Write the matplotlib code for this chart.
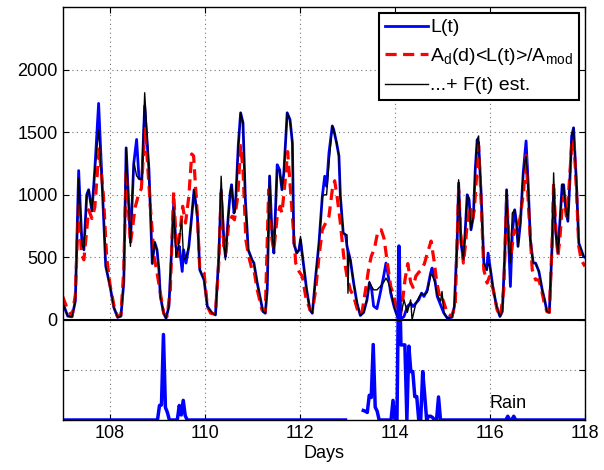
import numpy as np
import matplotlib
matplotlib.use("Agg")
import matplotlib.pyplot as plt

plt.rcParams['font.family'] = ['Liberation Sans', 'DejaVu Sans']
plt.rcParams['mathtext.fontset'] = 'custom'
plt.rcParams['mathtext.rm'] = 'Liberation Sans'
plt.rcParams['font.size'] = 13

# measured load L(t), day of year vs value
load_t = [107.00,107.11,107.20,107.27,107.34,107.41,107.45,107.51,107.55,107.62,107.68,107.76,107.84,107.91,
          108.00,108.08,108.16,108.23,108.29,108.34,108.43,108.50,108.56,108.61,108.67,108.73,108.82,108.89,108.94,108.99,
          109.03,109.06,109.13,109.18,109.24,109.29,109.34,109.39,109.43,109.46,109.52,109.55,109.60,109.66,109.72,109.77,109.84,109.89,109.98,
          110.05,110.15,110.22,110.29,110.34,110.40,110.43,110.49,110.53,110.56,110.61,110.64,110.70,110.75,110.80,110.85,110.91,110.99,
          111.03,111.10,111.17,111.22,111.27,111.31,111.36,111.41,111.45,111.52,111.57,111.62,111.66,111.73,111.79,111.84,111.87,111.93,111.98,
          112.01,112.07,112.14,112.21,112.26,112.33,112.40,112.47,112.52,112.56,112.61,112.68,112.71,112.77,112.82,112.85,112.91,112.96,112.99,
          113.06,113.13,113.20,113.27,113.34,113.41,113.46,113.51,113.55,113.62,113.69,113.76,113.81,113.86,113.91,113.98,
          114.05,114.10,114.19,114.26,114.33,114.38,114.44,114.50,114.56,114.61,114.68,114.75,114.78,114.84,114.89,114.96,
          115.03,115.10,115.20,115.25,115.31,115.34,115.39,115.44,115.48,115.52,115.56,115.60,115.65,115.69,115.73,115.76,115.81,115.87,115.93,115.96,
          116.00,116.07,116.14,116.21,116.26,116.31,116.35,116.40,116.43,116.47,116.52,116.56,116.59,116.64,116.70,116.76,116.80,116.85,116.91,116.96,
          117.03,117.10,117.15,117.20,117.25,117.31,117.34,117.38,117.43,117.48,117.52,117.55,117.59,117.64,117.68,117.72,117.76,117.82,117.87,117.92,117.97,118.00]
load_v = [140,30,25,150,1193,600,560,1000,1040,870,1200,1730,1040,430,
          270,100,20,30,300,1375,620,1250,1442,1130,1120,1710,1200,450,620,560,
          400,187,53,13,107,507,935,587,507,587,387,560,454,587,828,1040,828,400,320,
          107,53,40,507,1040,614,507,828,1015,1080,854,895,1390,1655,1575,960,560,480,
          454,294,160,67,53,240,1150,694,534,1240,1200,1040,1175,1655,1600,1415,614,534,560,
          640,454,240,80,53,347,614,988,1148,1068,1335,1550,1520,1415,1310,988,694,680,587,
          480,294,133,35,60,160,294,240,110,90,214,347,454,347,214,107,
          27,0,27,107,133,107,133,160,214,187,240,374,414,320,187,120,
          53,15,21,107,640,1095,614,480,720,1000,960,720,828,1200,1440,1415,1040,454,400,534,
          427,240,107,27,67,507,1040,560,267,694,880,774,587,774,1175,1430,1120,640,454,454,
          387,240,160,67,60,614,1040,720,534,828,1080,1080,908,788,1095,1470,1535,1095,614,560,507,500]

# A_d(d)<L(t)>/A_mod
model_t = [107.00,107.11,107.20,107.27,107.34,107.40,107.45,107.55,107.62,107.68,107.77,107.86,107.93,
           108.00,108.08,108.16,108.23,108.29,108.34,108.43,108.53,108.60,108.66,108.74,108.85,108.93,
           108.98,109.05,109.13,109.20,109.27,109.34,109.41,109.48,109.53,109.59,109.66,109.72,109.76,109.84,109.89,109.98,
           110.05,110.12,110.22,110.29,110.34,110.40,110.44,110.50,110.57,110.62,110.69,110.75,110.80,110.86,110.92,110.99,
           111.03,111.10,111.20,111.27,111.34,111.41,111.45,111.52,111.58,111.62,111.69,111.74,111.80,111.86,111.91,111.98,
           112.05,112.12,112.21,112.26,112.33,112.40,112.47,112.54,112.61,112.68,112.73,112.78,112.85,112.92,112.99,
           113.06,113.13,113.24,113.31,113.38,113.45,113.50,113.57,113.64,113.71,113.77,113.84,113.91,113.98,
           114.05,114.11,114.16,114.21,114.27,114.33,114.38,114.44,114.50,114.56,114.62,114.68,114.76,114.82,114.88,114.96,
           115.01,115.10,115.20,115.27,115.34,115.39,115.44,115.48,115.52,115.58,115.62,115.67,115.73,115.76,115.81,115.87,115.94,115.99,
           116.07,116.15,116.22,116.29,116.35,116.40,116.44,116.51,116.57,116.64,116.71,116.76,116.81,116.89,116.96,
           117.03,117.10,117.15,117.20,117.25,117.31,117.34,117.38,117.43,117.47,117.52,117.55,117.61,117.66,117.73,117.77,117.82,117.87,117.92,118.00]
model_v = [190,80,30,200,950,520,480,880,810,900,1366,1000,500,
           280,120,25,40,400,1200,610,900,1000,1050,1540,900,500,
           400,240,53,27,240,1019,507,720,908,774,988,1326,1310,828,400,374,
           107,53,48,454,1015,560,534,774,828,800,988,1393,1200,640,507,400,
           400,240,80,67,1040,640,560,828,908,854,1120,1345,1040,720,454,387,
           347,187,80,67,240,507,720,774,828,1040,1112,988,774,507,347,
           240,187,40,70,240,420,507,574,710,720,650,454,267,187,
           53,27,150,320,450,300,260,350,380,400,450,530,630,480,300,150,
           160,53,27,133,1040,667,454,587,774,908,774,880,1228,1393,988,400,294,347,
           240,80,27,240,960,667,507,720,694,828,1040,1313,908,400,320,
           320,214,120,67,60,640,1095,774,507,640,908,988,828,1040,1447,1415,1040,587,480,427]

# ...+ F(t) estimate
est_t = [107.00,107.11,107.20,107.27,107.34,107.41,107.45,107.51,107.55,107.62,107.68,107.76,107.84,107.91,
         108.00,108.08,108.16,108.23,108.29,108.34,108.43,108.50,108.56,108.61,108.67,108.73,108.82,108.89,108.94,108.99,
         109.03,109.06,109.13,109.18,109.24,109.29,109.34,109.39,109.43,109.46,109.51,109.55,109.60,109.66,109.72,109.77,109.84,109.89,109.98,
         110.05,110.15,110.22,110.29,110.34,110.40,110.43,110.49,110.53,110.56,110.61,110.64,110.70,110.75,110.80,110.85,110.91,110.99,
         111.03,111.10,111.17,111.22,111.27,111.31,111.36,111.41,111.45,111.52,111.57,111.62,111.66,111.73,111.79,111.84,111.87,111.93,111.98,
         112.01,112.07,112.14,112.21,112.26,112.33,112.40,112.47,112.52,112.56,112.61,112.68,112.71,112.77,112.82,112.85,112.91,112.96,112.99,
         113.01,113.03,113.06,113.13,113.20,113.27,113.34,113.41,113.46,113.51,113.55,113.62,113.69,113.76,113.81,113.86,113.91,113.98,
         114.05,114.10,114.19,114.26,114.33,114.36,114.44,114.50,114.56,114.61,114.68,114.75,114.78,114.84,114.89,114.96,114.99,
         115.03,115.10,115.20,115.25,115.31,115.34,115.39,115.44,115.48,115.52,115.56,115.60,115.65,115.69,115.73,115.76,115.81,115.87,115.93,115.96,
         116.00,116.07,116.14,116.21,116.26,116.31,116.35,116.40,116.43,116.47,116.52,116.56,116.59,116.64,116.70,116.76,116.80,116.85,116.91,116.96,
         117.03,117.10,117.15,117.20,117.25,117.31,117.34,117.38,117.43,117.48,117.52,117.55,117.59,117.64,117.68,117.72,117.76,117.82,117.87,117.92,117.97,118.00]
est_v = [140,30,25,150,1135,600,560,1000,1040,870,1200,1520,1040,430,
         270,100,20,30,300,1375,587,1268,1150,1130,1120,1815,1200,450,620,560,
         400,187,53,13,107,507,900,500,560,650,800,480,500,587,828,1040,828,400,320,
         107,53,40,507,1148,614,480,828,1015,1080,854,895,1390,1655,1575,960,560,480,
         454,294,160,67,53,240,1150,694,534,1200,1200,1040,1175,1655,1600,1415,614,534,560,
         667,454,240,80,53,347,614,988,1000,1000,1250,1550,1520,1415,1310,988,694,680,680,
         213,530,480,294,133,35,60,160,307,267,240,240,267,300,334,300,240,107,
         27,0,160,60,160,0,133,180,214,200,220,360,360,300,200,150,227,
         60,15,21,107,640,1120,614,480,720,1000,970,720,828,1200,1440,1470,1040,454,400,450,
         427,240,107,27,67,507,1040,560,454,854,880,774,587,774,1175,1310,1120,640,454,454,
         387,240,160,67,60,614,1175,720,534,828,1080,1080,908,788,1095,1470,1535,1095,614,560,507,500]

# rain, hourly from day 107, height above the lower axis edge
rain_hour = [49, 50, 51, 52, 53, 59, 60, 61, 62,
             152, 153, 154, 155, 156, 157, 158, 159, 167,
             170, 171, 172, 173, 175, 176, 177, 178, 179, 182, 183,
             185, 186, 187, 190, 225, 228]
rain_height = [116, 120, 683, 100, 60, 116, 40, 157, 35,
               76, 70, 60, 197, 180, 603, 103, 70, 157,
               1390, 600, 600, 600, 590, 387, 387, 187, 187, 387, 200,
               30, 30, 20, 184, 30, 30]
rain_missing = list(range(144, 152))
rain_base = -800

hours = np.arange(0, 11 * 24 + 1)
rain = np.zeros(len(hours))
rain[rain_hour] = rain_height
rain[rain_missing] = np.nan
rain_t = 107 + hours / 24.0

fig = plt.figure(figsize=(6.04, 4.70), dpi=100)
ax = fig.add_axes([0.1035, 0.1064, 0.865, 0.8786])

ax.plot(load_t, load_v, color='#0000ff', lw=2.0, label='L(t)')
ax.plot(model_t, model_v, color='#ff0000', lw=2.3, dashes=(3.5, 2),
        label=r'A$_\mathrm{d}$(d)<L(t)>/A$_\mathrm{mod}$')
ax.plot(est_t, est_v, color='black', lw=1.0, label='...+ F(t) est.')
ax.plot(rain_t, rain_base + rain, color='#0000ff', lw=2.5)
ax.axhline(0, color='black', lw=1.5)

ax.text(116.0, -670, 'Rain', fontsize=13, va='center', ha='left')

ax.set_xlim(107, 118)
ax.set_ylim(-800, 2500)
ax.set_xticks(range(108, 119, 2))
ax.set_yticks([-400, 0, 500, 1000, 1500, 2000])
ax.set_yticklabels(['', '0', '500', '1000', '1500', '2000'])
ax.set_xlabel('Days', labelpad=2)
ax.grid(True, color='0.45', linestyle=(0, (1, 3)), lw=0.8)
ax.tick_params(direction='in', top=True, right=True, length=4, width=0.8)
for s in ax.spines.values():
    s.set_linewidth(1.0)

leg = ax.legend(loc='upper right', fancybox=False, edgecolor='black', framealpha=1,
                fontsize=14, handlelength=2.2, borderaxespad=0.3, labelspacing=0.5,
                handletextpad=0.15, borderpad=0.3)
leg.get_frame().set_linewidth(1.5)

fig.savefig('out.png', dpi=100)
plt.close(fig)
